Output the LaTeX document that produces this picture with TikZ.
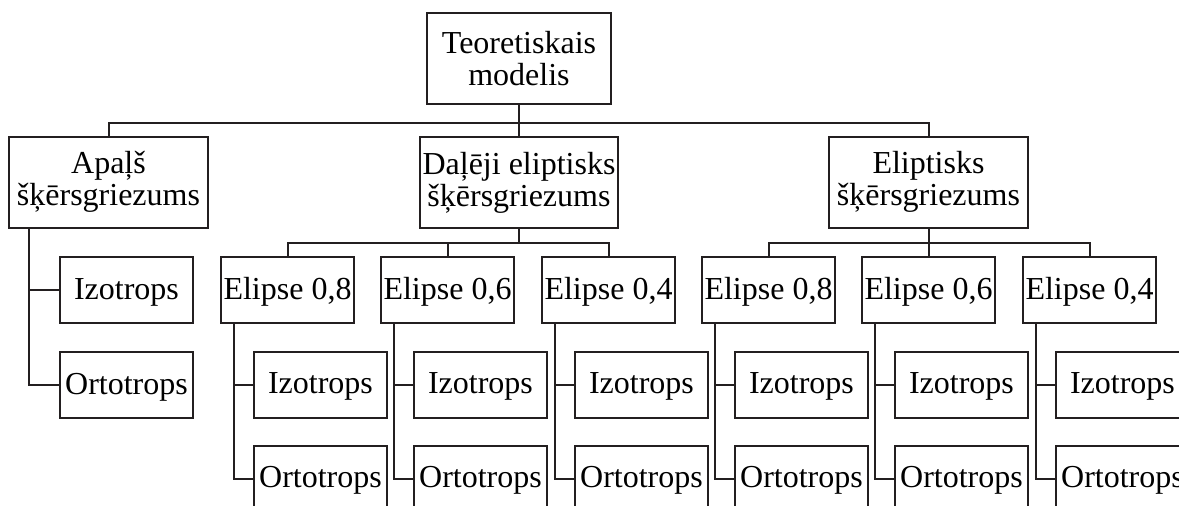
\documentclass[tikz,border=0pt]{standalone}
\usepackage{fontspec}
\setmainfont{Liberation Serif}
\usetikzlibrary{calc}
\definecolor{ln}{HTML}{231F20}
\begin{document}
\begin{tikzpicture}[x=1pt,y=-1pt,
  box/.style={draw=ln, line width=2pt, inner sep=0pt, align=center,
    font=\fontsize{32}{32}\selectfont},
  bigbox/.style={box, minimum height=91pt},
  smallbox/.style={box, minimum width=133pt, minimum height=66pt,
    text height=23pt, text depth=5pt},
  conn/.style={draw=ln, line width=2pt}]
\useasboundingbox (0,0) rectangle (1179,506);
\fill[white] (0,0) rectangle (1179,506);
\clip (0,0) rectangle (1179,506);

% top levels
\node[bigbox, minimum width=184pt] (root) at (519,58.5) {Teoretiskais\\modelis};
\node[bigbox, minimum width=199pt] (apals) at (108.5,182) {Apaļš\\šķērsgriezums};
\node[bigbox, minimum width=198pt] (dalej) at (519,182.5) {Daļēji eliptisks\\šķērsgriezums};
\node[bigbox, minimum width=199pt] (elipt) at (928.5,182) {Eliptisks\\šķērsgriezums};

\coordinate (b0) at (519,122.5);
\draw[conn] (apals.north) |- (b0) -| (elipt.north);
\draw[conn] (root.south) -- (dalej.north);

% Apaļš children
\node[smallbox] (ai) at (126.5,290) {Izotrops};
\node[smallbox] (ao) at (126.5,385) {Ortotrops};
\coordinate (va) at ($(apals.south west)+(21,0)$);
\draw[conn] (va) |- (ao.west);
\draw[conn] (va |- ai.west) -- (ai.west);

% ellipse groups
\foreach \L/\t [count=\i] in {221/{0,8},381/{0,6},542/{0,4},702/{0,8},862/{0,6},1023/{0,4}}{
  \node[smallbox] (e\i) at (\L+66.5,290) {Elipse \t};
  \node[smallbox] (iz\i) at (\L+99.5,384.5) {Izotrops};
  \node[smallbox] (or\i) at (\L+99.5,478.5) {Ortotrops};
  \coordinate (v\i) at ($(e\i.south west)+(14,0)$);
  \draw[conn] (v\i) |- (or\i.west);
  \draw[conn] (v\i |- iz\i.west) -- (iz\i.west);
}

\coordinate (b1) at (519,243);
\coordinate (b2) at (928.5,243);
\draw[conn] (e1.north) |- (b1) -| (e3.north);
\draw[conn] (dalej.south) -- (b1);
\draw[conn] (e2.north) -- (e2.north |- b1);
\draw[conn] (e4.north) |- (b2) -| (e6.north);
\draw[conn] (elipt.south) -- (e5.north);
\end{tikzpicture}
\end{document}
